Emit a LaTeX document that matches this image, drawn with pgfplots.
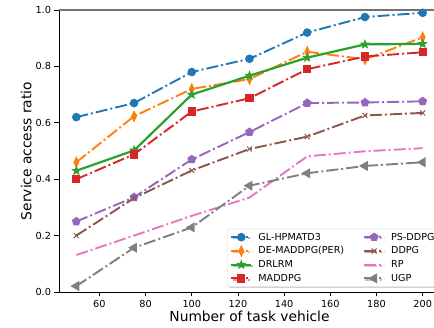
\documentclass[border=0pt]{standalone}
\usepackage{fontspec}
\setmainfont{DejaVu Sans}
\usepackage{pgfplots}
\pgfplotsset{compat=1.18}
\usetikzlibrary{plotmarks,shadows}
\definecolor{cblue}{HTML}{1F77B4}
\definecolor{corange}{HTML}{FF7F0E}
\definecolor{cgreen}{HTML}{2CA02C}
\definecolor{cred}{HTML}{D62728}
\definecolor{cpurple}{HTML}{9467BD}
\definecolor{cbrown}{HTML}{8C564B}
\definecolor{cpink}{HTML}{E377C2}
\definecolor{cgray}{HTML}{7F7F7F}
\pgfdeclareplotmark{fstar}{%
  \pgfpathmoveto{\pgfpointpolar{90}{\pgfplotmarksize}}%
  \pgfpathlineto{\pgfpointpolar{126}{0.42\pgfplotmarksize}}%
  \pgfpathlineto{\pgfpointpolar{162}{\pgfplotmarksize}}%
  \pgfpathlineto{\pgfpointpolar{198}{0.42\pgfplotmarksize}}%
  \pgfpathlineto{\pgfpointpolar{234}{\pgfplotmarksize}}%
  \pgfpathlineto{\pgfpointpolar{270}{0.42\pgfplotmarksize}}%
  \pgfpathlineto{\pgfpointpolar{306}{\pgfplotmarksize}}%
  \pgfpathlineto{\pgfpointpolar{342}{0.42\pgfplotmarksize}}%
  \pgfpathlineto{\pgfpointpolar{18}{\pgfplotmarksize}}%
  \pgfpathlineto{\pgfpointpolar{54}{0.42\pgfplotmarksize}}%
  \pgfpathclose\pgfusepathqfillstroke}
\tikzset{mdashdot/.style={dash pattern=on 12pt off 3pt on 2pt off 3pt}}
\begin{document}
\begin{tikzpicture}
\begin{axis}[
  at={(0,0)}, anchor=south west,
  scale only axis, width=381pt, height=282pt,
  xmin=42.5, xmax=207.5, ymin=0, ymax=1,
  xtick={60,80,...,200},
  ytick={0,0.2,0.4,0.6,0.8,1.0},
  yticklabel style={/pgf/number format/.cd, fixed, fixed zerofill, precision=1},
  /pgf/number format/assume math mode=true,
  tick pos=left, tick align=outside,
  major tick length=4.5pt,
  tick style={black, line width=0.6pt},
  axis line style={black, line width=0.7pt},
  ticklabel style={font=\fontsize{9.7}{11}\selectfont},
  xlabel={Number of task vehicle},
  ylabel={Service access ratio},
  label style={font=\fontsize{13.8}{16}\selectfont},
  xlabel style={yshift=3pt},
  ylabel style={yshift=-3pt},
  legend columns=4, transpose legend,
  legend cell align=left,
  legend style={at={(0.441,0.018)}, anchor=south west,
    font=\fontsize{9.6}{11}\selectfont,
    draw=black!15, rounded corners=2pt, fill=white,
    drop shadow={shadow xshift=1.2pt, shadow yshift=-1.2pt, fill=black!35},
    row sep=1.1pt, column sep=4pt, inner xsep=3pt, inner ysep=2pt,
    /tikz/every even column/.append style={column sep=17pt}},
  legend image code/.code={%
    \draw[mark repeat=2,mark phase=2] plot coordinates {(0pt,0pt)(10pt,0pt)(20pt,0pt)};},
  every axis plot/.append style={line width=1.9pt},
]
\addplot[cblue, mdashdot, mark=*, mark size=3.3pt, mark options={solid}] coordinates {
(50,0.620)(75,0.670)(100,0.780)(125,0.827)(150,0.920)(175,0.975)(200,0.990)};
\addlegendentry{GL-HPMATD3}
\addplot[corange, mdashdot, mark=diamond*, mark size=4pt, mark options={solid, xscale=0.62}] coordinates {
(50,0.460)(75,0.623)(100,0.720)(125,0.755)(150,0.852)(175,0.825)(200,0.903)};
\addlegendentry{DE-MADDPG(PER)}
\addplot[cgreen, solid, line width=2.2pt, mark=fstar, mark size=4.2pt, mark options={solid, line width=0.8pt}] coordinates {
(50,0.430)(75,0.502)(100,0.700)(125,0.767)(150,0.831)(175,0.878)(200,0.880)};
\addlegendentry{DRLRM}
\addplot[cred, mdashdot, mark=square*, mark size=3.2pt, mark options={solid}] coordinates {
(50,0.400)(75,0.488)(100,0.640)(125,0.687)(150,0.790)(175,0.835)(200,0.850)};
\addlegendentry{MADDPG}
\addplot[cpurple, mdashdot, mark=pentagon*, mark size=3.5pt, mark options={solid}] coordinates {
(50,0.250)(75,0.336)(100,0.470)(125,0.567)(150,0.670)(175,0.672)(200,0.676)};
\addlegendentry{PS-DDPG}
\addplot[cbrown, mdashdot, mark=x, mark size=3.5pt, mark options={solid, line width=1pt}] coordinates {
(50,0.200)(75,0.333)(100,0.431)(125,0.507)(150,0.551)(175,0.626)(200,0.635)};
\addlegendentry{DDPG}
\addplot[cpink, mdashdot, no marks] coordinates {
(50,0.131)(75,0.200)(100,0.270)(125,0.335)(150,0.481)(175,0.499)(200,0.510)};
\addlegendentry{RP}
\addplot[cgray, mdashdot, mark=triangle*, mark size=4pt, mark options={solid, rotate=90}] coordinates {
(50,0.021)(75,0.157)(100,0.229)(125,0.377)(150,0.421)(175,0.447)(200,0.460)};
\addlegendentry{UGP}
\draw[black!55, line width=1.6pt] (rel axis cs:0,1) -- (rel axis cs:1,1);
\end{axis}
\pgfresetboundingbox
\useasboundingbox (-59pt,-36pt) rectangle (375pt,292pt);
\end{tikzpicture}
\end{document}
